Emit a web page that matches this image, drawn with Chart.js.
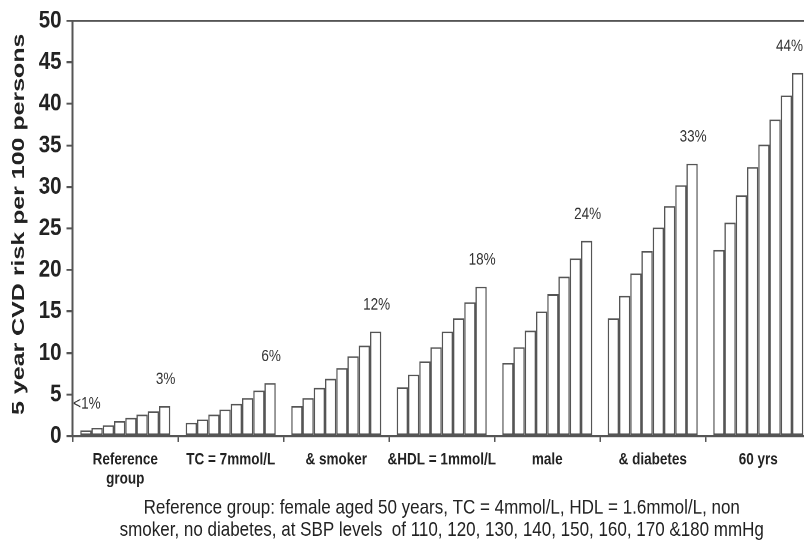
<!DOCTYPE html>
<html>
<head>
<meta charset="utf-8">
<script src="https://cdn.jsdelivr.net/npm/chart.js@4"></script>
<style>
  html, body { margin: 0; padding: 0; background: #fff; }
  #page { width: 804px; height: 542px; overflow: hidden; position: relative; }
  /* the whole figure is drawn short and stretched tall, like the printed original */
  #wrap { position: absolute; left: 0; top: 0; width: 812px; height: 452px; transform: scaleY(1.2); transform-origin: 0 0; }
  #riskChart { display: block; }
</style>
</head>
<body>
<div id="page"><div id="wrap"><canvas id="riskChart" width="812" height="452"></canvas></div></div>
<script>
// risk factor groups along the x axis
var groups = [['Reference', 'group'], 'TC = 7mmol/L', '& smoker', '&HDL = 1mmol/L', 'male', '& diabetes', '60 yrs'];
// systolic blood pressure levels, one bar per level inside each group
var sbpLevels = [110, 120, 130, 140, 150, 160, 170, 180];

// 5 year risk per group, listed by SBP level
var refGroup  = [0.7, 1.0, 1.3, 1.8, 2.2, 2.6, 3.0, 3.6];
var highTC    = [1.6, 2.0, 2.6, 3.2, 3.9, 4.6, 5.5, 6.4];
var smoker    = [3.6, 4.6, 5.8, 6.9, 8.2, 9.6, 10.9, 12.6];
var lowHDL    = [5.9, 7.4, 9.0, 10.7, 12.6, 14.2, 16.1, 18.0];
var male      = [8.8, 10.7, 12.7, 15.0, 17.1, 19.2, 21.4, 23.5];
var diabetes  = [14.2, 16.9, 19.6, 22.3, 25.1, 27.7, 30.2, 32.8];
var age60     = [22.4, 25.7, 29.0, 32.4, 35.1, 38.1, 41.0, 43.7];

var groupValues = [refGroup, highTC, smoker, lowHDL, male, diabetes, age60];

// percentage notes above the bars: group, bar index, text
var notes = [
    [0, 0, '<1%'],
    [0, 7, '3%'],
    [1, 7, '6%'],
    [2, 7, '12%'],
    [3, 7, '18%'],
    [4, 7, '24%'],
    [5, 7, '33%'],
    [6, 7, '44%']
];

var yTitle = '5 year CVD risk per 100 persons';
var footer = ['Reference group: female aged 50 years, TC = 4mmol/L, HDL = 1.6mmol/L, non',
              'smoker, no diabetes, at SBP levels  of 110, 120, 130, 140, 150, 160, 170 &180 mmHg'];

var lineColor = '#555';
var textColor = '#222';
var font = '"Liberation Sans", Arial, sans-serif';
var visibleWidth = 804; // canvas runs a little past the page edge

var datasets = sbpLevels.map(function(sbp, i) {
    return {
        label: 'SBP ' + sbp,
        data: groupValues.map(function(g) { return g[i]; }),
        backgroundColor: '#fff',
        borderColor: lineColor,
        borderWidth: 1.4,
        borderSkipped: false,
        categoryPercentage: 0.853,
        barPercentage: 1.0
    };
});

// value notes over the bars and the widened y axis title
var notePlugin = {
    id: 'notes',
    afterDatasetsDraw: function(chart) {
        var ctx = chart.ctx;
        ctx.save();
        ctx.font = '13.5px ' + font;
        ctx.fillStyle = '#333';
        ctx.textAlign = 'center';
        ctx.textBaseline = 'middle';
        notes.forEach(function(n) {
            var bar = chart.getDatasetMeta(n[1]).data[n[0]];
            var half = ctx.measureText(n[2]).width / 2;
            // keep the last note inside the page
            var x = Math.min(bar.x + 1, visibleWidth - half - 1);
            ctx.fillText(n[2], x, bar.y - 22);
        });
        ctx.restore();

        var area = chart.chartArea;
        ctx.save();
        ctx.translate(19, (area.top + area.bottom) / 2 - 3.5);
        ctx.rotate(-Math.PI / 2);
        ctx.scale(1.175, 1);
        ctx.font = 'bold 17.7px ' + font;
        ctx.fillStyle = textColor;
        ctx.textAlign = 'center';
        ctx.textBaseline = 'middle';
        ctx.fillText(yTitle, 0, 0);
        ctx.restore();
    }
};

var ctx = document.getElementById('riskChart').getContext('2d');
var riskChart = new Chart(ctx, {
    type: 'bar',
    data: {
        labels: groups,
        datasets: datasets
    },
    plugins: [notePlugin],
    options: {
        responsive: false,
        animation: false,
        devicePixelRatio: 2,
        layout: {
            padding: { top: 0, right: 1, left: 0, bottom: 0 }
        },
        plugins: {
            legend: { display: false },
            tooltip: { enabled: false },
            title: {
                display: true,
                position: 'bottom',
                fullSize: false,
                text: footer,
                color: textColor,
                font: { family: font, size: 17, weight: 'normal', lineHeight: 1.08 },
                padding: { top: 0, bottom: 1 }
            }
        },
        scales: {
            x: {
                offset: true,
                border: { color: lineColor, width: 1.7 },
                grid: {
                    offset: true,
                    drawOnChartArea: false,
                    color: lineColor,
                    tickLength: 5,
                    lineWidth: 1.5
                },
                ticks: {
                    color: textColor,
                    padding: 7,
                    maxRotation: 0,
                    autoSkip: false,
                    font: { family: font, size: 13.5, weight: 'bold', lineHeight: 1.18 }
                }
            },
            y: {
                min: 0,
                max: 50,
                afterFit: function(s) { s.width = 72.5; },
                border: { color: lineColor, width: 2 },
                grid: {
                    drawOnChartArea: true,
                    color: function(c) { return c.tick && c.tick.value === 50 ? lineColor : 'rgba(0,0,0,0)'; },
                    tickColor: lineColor,
                    tickLength: 6,
                    lineWidth: 1.7
                },
                ticks: {
                    stepSize: 5,
                    color: textColor,
                    padding: 5,
                    font: { family: font, size: 20.5, weight: 'bold' }
                }
            }
        }
    }
});
</script>
</body>
</html>
